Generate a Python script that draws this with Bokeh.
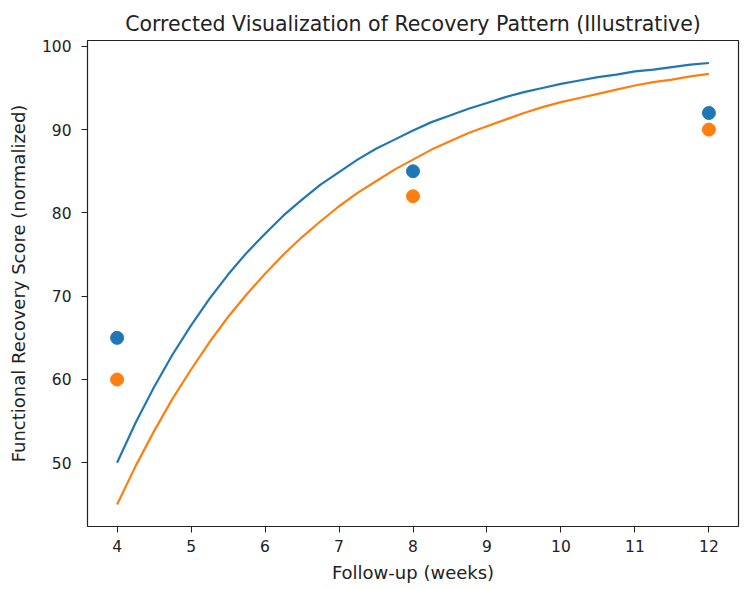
from bokeh.plotting import figure
from bokeh.models import Range1d, FixedTicker
from bokeh.embed import file_html
from bokeh.resources import INLINE

# Fitted recovery curves, sampled every quarter week
curve_weeks = [4.0, 4.25, 4.5, 4.75, 5.0, 5.25, 5.5, 5.75, 6.0,
               6.25, 6.5, 6.75, 7.0, 7.25, 7.5, 7.75, 8.0,
               8.25, 8.5, 8.75, 9.0, 9.25, 9.5, 9.75, 10.0,
               10.25, 10.5, 10.75, 11.0, 11.25, 11.5, 11.75, 12.0]
curve_a = [50.0, 54.8, 59.1, 63.0, 66.5, 69.7, 72.6, 75.2, 77.5,
           79.7, 81.6, 83.4, 84.9, 86.4, 87.7, 88.8, 89.9,
           90.9, 91.7, 92.5, 93.2, 93.9, 94.5, 95.0, 95.5,
           95.9, 96.3, 96.6, 97.0, 97.2, 97.5, 97.8, 98.0]
curve_b = [45.0, 49.6, 53.8, 57.7, 61.2, 64.5, 67.5, 70.2, 72.7,
           75.0, 77.1, 79.0, 80.8, 82.4, 83.8, 85.2, 86.4,
           87.6, 88.6, 89.6, 90.4, 91.2, 92.0, 92.7, 93.3,
           93.8, 94.3, 94.8, 95.3, 95.7, 96.0, 96.4, 96.7]

# Observed scores at follow-up visits
obs_weeks = [4, 8, 12]
obs_a = [65, 85, 92]
obs_b = [60, 82, 90]

x_ticks = [4, 5, 6, 7, 8, 9, 10, 11, 12]
y_ticks = [50, 60, 70, 80, 90, 100]

BLUE = "#1f77b4"
ORANGE = "#ff7f0e"
FONT = "DejaVu Sans"
INK = "#222222"

p = figure(width=750, height=589, output_backend="svg", toolbar_location=None,
           x_range=Range1d(3.6, 12.4), y_range=Range1d(42.35, 100.7),
           min_border_left=87, min_border_right=12,
           min_border_top=40, min_border_bottom=63)

p.title.text = "Corrected Visualization of Recovery Pattern (Illustrative)"
p.title.align = "center"
p.title.text_font = FONT
p.title.text_font_size = "20.5px"
p.title.text_font_style = "normal"
p.title.text_color = INK

p.line(curve_weeks, curve_a, line_color=BLUE, line_width=2.2)
p.line(curve_weeks, curve_b, line_color=ORANGE, line_width=2.2)
p.scatter(obs_weeks, obs_a, size=13, fill_color=BLUE, line_color=BLUE)
p.scatter(obs_weeks, obs_b, size=13, fill_color=ORANGE, line_color=ORANGE)

p.grid.visible = False
p.outline_line_color = INK
p.outline_line_width = 1.2

for ax in (p.xaxis[0], p.yaxis[0]):
    ax.axis_line_color = None
    ax.major_tick_out = 6
    ax.major_tick_in = 0
    ax.minor_tick_line_color = None
    ax.major_tick_line_color = INK
    ax.major_label_text_font = FONT
    ax.major_label_text_font_size = "15.5px"
    ax.major_label_text_color = INK
    ax.axis_label_text_font = FONT
    ax.axis_label_text_font_style = "normal"
    ax.axis_label_text_color = INK
    ax.axis_label_text_font_size = "18px"

p.xaxis.ticker = FixedTicker(ticks=x_ticks)
p.yaxis.ticker = FixedTicker(ticks=y_ticks)
p.xaxis.axis_label = "Follow-up (weeks)"
p.yaxis.axis_label = "Functional Recovery Score (normalized)"
p.xaxis.major_label_standoff = 7
p.yaxis.major_label_standoff = 10
p.xaxis.axis_label_standoff = 7
p.yaxis.axis_label_standoff = 10

open("out.html", "w").write(file_html(p, INLINE))
